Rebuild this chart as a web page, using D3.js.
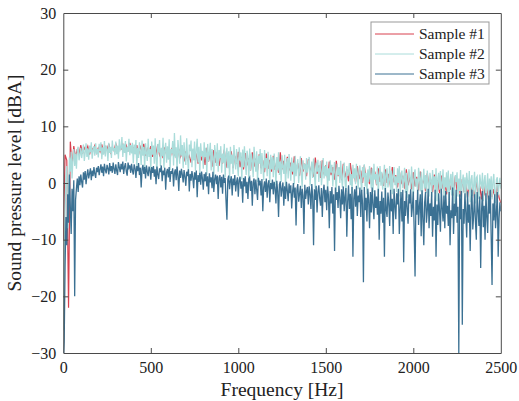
<!DOCTYPE html>
<html>
<head>
<meta charset="utf-8">
<script src="https://cdn.jsdelivr.net/npm/d3@7"></script>
<style>
  body { margin: 0; background: #fff; }
  svg { display: block; font-family: "Liberation Serif", "Times New Roman", serif; }
</style>
</head>
<body>
<div id="chart"></div>
<script>
// frequency grids (Hz): sample #1 read every 10 Hz, samples #2 and #3 every 5 Hz
var freqsCoarse = d3.range(0, 2501, 10);
var freqsFine = d3.range(0, 2501, 5);

var seriesNames = ["Sample #1", "Sample #2", "Sample #3"];
var seriesColors = ["#d8404f", "#aadcda", "#3b7193"];
var seriesWidths = [1.2, 1.3, 1.3];

// Sample #1 (dBA), 10 Hz steps
var sample1 = [
  -10, 5, 4, -22, 7.3, 3, 6.5, 4.5, 6, 5,
  6.7, 5.2, 6.2, 5.6, 6.5, 5, 6.3, 5.8, 6.6, 5.3,
  6.2, 5.5, 6.8, 5.2, 6.4, 5.9, 6.9, 5.4, 6.3, 5.7,
  7, 5.5, 6.4, 6, 6.8, 5.3, 6.6, 5.8, 7.1, 5.6,
  6.2, 5.4, 6.7, 5, 6.4, 5.6, 6.9, 4.8, 6.1, 5.5,
  6.5, 4.6, 5.9, 5.2, 6.8, 4.9, 5.7, 4.4, 6.3, 5,
  5.5, 4.2, 6.2, 4.8, 5.2, 4, 6, 4.6, 5.4, 3.8,
  5.6, 4.1, 4.8, 3.6, 5.8, 4.3, 5, 3.4, 5.3, 4,
  5.4, 3.2, 6.2, 3.8, 5.2, 2.9, 5.8, 3.6, 5.5, 3,
  5, 3.4, 5.9, 2.7, 5.2, 3.3, 5.6, 2.6, 4.8, 3.4,
  5.5, 2.8, 4.6, 2.4, 5.3, 3.1, 4.4, 2.2, 5.4, 2.9,
  4.3, 2.2, 5.1, 2.6, 4, 1.9, 5.2, 2.5, 4.1, 2,
  4.8, 2.3, 3.8, 1.8, 5.4, 2.4, 3.9, 1.6, 4.6, 2.2,
  3.6, 1.5, 4.7, 2.1, 3.5, 1.3, 4.4, 2, 3.4, 1.2,
  4.2, 1.8, 3.2, 1.1, 4.5, 1.6, 3.1, 0.9, 4, 1.5,
  3.1, 0.8, 3.8, 1.4, 2.8, 0.6, 3.9, 1.2, 2.7, 0.5,
  3.4, 1, 2.4, 0.3, 3.5, 0.9, 2.3, 0.1, 3, 0.7,
  2.2, 0, 3.1, 0.6, 1.3, -0.2, 2.7, 0.4, 2, -0.4,
  2.6, 0.2, 1.7, -0.5, 2.4, 0, 1.6, -0.7, 2.8, 0.1,
  1.4, -0.8, 2.2, -0.2, 1.3, -1, 2.4, -0.4, 1, -1.1,
  1.9, -0.6, 1.1, -1.3, 2, -0.5, 0.8, -1.5, 1.7, -0.8,
  0.6, -1.6, 1.5, -0.9, 0.5, -1.8, 1.3, -1, 0.3, -2,
  1, -1.2, 0, -2.2, 1.2, -1.4, -0.1, -2.4, 0.7, -1.6,
  -0.2, -2.5, 0.5, -1.8, -0.4, -2.7, 0.3, -2, -0.6, -2.9,
  0, -2.2, -0.8, -3, -0.2, -2.5, -1.1, -3.3, -0.4, -2.6,
  -3.5
];

// Sample #2, 5 Hz steps
var sample2 = [
  -26, -14, -5, 1, 3, -8, -2, 4.5, 2, 5.5, 0.8, 4.2, 6, 3, 5.2, 2.5, 5.8, 6.4, 4, 5,
  6.2, 4.4, 5.6, 6.8, 3.9, 5.3, 7, 4.6, 6.1, 4.1, 6.6, 5.4, 7.2, 4.3, 5.8, 6.5, 4.8, 7, 5.1, 6,
  4.5, 6.9, 5.6, 7.2, 4.2, 6.3, 5, 7.4, 4.7, 6.6, 5.9, 3.9, 7.1, 5.3, 6.4, 4.4, 7.5, 5.7, 6.2, 4.9,
  7.3, 5.1, 6.6, 4.3, 7.7, 5.8, 6.1, 8.1, 4.6, 6.9, 5.3, 7.4, 3.8, 6.4, 5.5, 7.8, 4.9, 6.7, 5.2, 7.1,
  3.5, 6.8, 5.1, 7.6, 2.9, 6.2, 4.4, 7.2, 5.6, 3.2, 7.5, 4.8, 6.4, 2.6, 7, 5.3, 3.9, 7.8, 4.6, 6,
  2.4, 7.3, 5, 6.6, 3.4, 7.9, 4.2, 2.1, 6.9, 5.4, 7.6, 3, 6.2, 4.7, 8, 2.7, 5.8, 7.1, 3.6, 6.5,
  4.1, 7.7, 2.3, 6, 5.2, 7.4, 3.1, 8.8, 4.5, 6.3, 2, 7.6, 5.5, 3.4, 8.4, 4.8, 6.7, 2.6, 7.2, 5,
  3.2, 7.9, 4.4, 1.9, 6.8, 5.6, 7.5, 2.8, 6.1, 4, 7.3, 2.2, 5.9, 7.8, 3.6, 6.4, 1.6, 7, 4.8, 5.7,
  2.5, 7.2, 4.6, 6.2, 1.4, 6.9, 3.8, 5.4, 7.1, 2.2, 6, 4.2, 1.2, 6.7, 5, 3, 7, 2, 5.8, 4.4,
  6.5, 1.8, 5.2, 3.6, 6.9, 1, 4.8, 6.2, 2.6, 5.6, 0.8, 6.4, 3.4, 5, 1.6, 6.7, 4.2, 2.4, 6, 3.2,
  1.2, 6.3, 4, 5.4, 0.6, 5.9, 2.8, 6.5, 3.6, 1.4, 5.7, 4.5, 0.4, 6.1, 2.2, 5.2, 3.8, 1, 6.4, 4.2,
  2, 5.6, 0.2, 4.8, 3.4, 6, 1.6, 5.3, 3, 0.5, 5.8, 2.6, 4.4, 1.2, 5.5, 3.6, 0, 5, 2.4, 4.6,
  1, 5.2, 3.2, -0.4, 4.6, 2.2, 5.4, 1.4, 3.8, 0.2, 4.9, 2.8, 1.6, 5, -0.6, 3.4, 4.4, 0.8, 5.1, 2.6,
  0.4, 4.5, 2, 3.6, -0.2, 4.8, 1.2, 3, 4.2, 0, 2.6, 4.7, 1.6, -0.8, 4, 2.4, 3.4, 0.6, 4.4, 1.8,
  3.2, 4.6, -0.5, 2.2, 3.8, 0.9, 4.3, 1.4, -1, 3.6, 2, 4.1, 0.2, 2.8, 3.9, -0.4, 1.6, 4.4, 0.8, 3,
  1.2, 3.8, -1.2, 2.6, 0.4, 4, 1.8, 3.2, -0.6, 2.2, 3.7, 0.6, -1.5, 3.4, 1.4, 2.8, 0, 3.9, 1, -0.8,
  2.4, 3.6, 0.2, -1.6, 3, 1.2, 2, 3.5, -0.4, 1.6, -1.8, 3.2, 0.8, 2.6, -0.2, 3.4, 1.4, -1.1, 2.2, 3.1,
  0.4, -1.4, 2.8, 1, 3.3, -0.6, 1.8, -2, 2.4, 0.2, 3, 1.2, -0.9, 2.6, -1.6, 3.4, 0.6, 1.6, -0.3, 2.9,
  -2.2, 1.4, 3, -0.5, 2, -1.2, 0.8, 3.2, -2.5, 1.6, 2.6, -0.8, 0.4, 3, -1.3, 2.2, -2, 1, 2.8, -0.4,
  1.2, -1.6, 2.6, 0, 3, -2.4, 1.4, 2.2, -0.9, 0.6, 2.7, -1.7, 1.8, -2.6, 0.2, 2.4, 1, -1.2, 2.9, 0.4,
  -2.8, 1.6, 2.4, -0.6, 0.8, -2.2, 2.7, 1.2, -1.5, 2, -3, 0.4, 2.5, -1, 1.4, -1.8, 2.2, 0.2, -2.4, 1.8,
  0.6, -2.5, 2.3, -0.4, 1.2, -1.9, 2.6, -3.2, 0.8, 1.8, -1.2, 2.1, -2, 0, 2.4, -2.7, 1, -0.8, 1.9, -1.6,
  2.2, -3, 0.4, 1.6, -2.2, 2, -1, -3.5, 1.4, 0.2, 1.9, -2.4, 0.8, -1.4, 2.3, -3.1, 0, 1.5, -1.8, 1,
  -2.6, 1.8, 0.2, -1.2, 2.1, -3.4, 0.6, 1.4, -2.3, -0.4, 2, -3.6, 0.9, 1.2, -1.6, -2.8, 1.5, 0, -1, 1.8,
  -3.2, 0.4, 1.4, -2.5, -0.6, 1.7, -3.8, 0.8, -1.4, 1.2, -2.9, 0.2, 1.6, -1.8, -3.5, 0.6, 1, -2.2, -0.4, 0.9,
  -1
];

// Sample #3, 5 Hz steps
var sample3 = [
  -32, -28, -15, -6, -11, -2, -7, 1.5, -4, -9, -1, -5, 0.5, -20, -3, -1, 0.8, -1.6, 1.2, -0.4,
  1.5, 0.2, -0.8, 1.9, 0.6, 2.1, -0.2, 1.4, 2.4, 0.8, 1.7, 2.6, 0.5, 2.2, 1.2, 2.8, 1.6, 0.9, 2.7, 1.9,
  3, 1.4, 2.4, 3.3, 1.8, 2.9, 1.2, 3.4, 2.3, 1.7, 3.2, 2.6, 1.5, 3.5, 2.1, 3, 1.8, 3.6, 2.5, 1.6,
  3.3, 2.2, 1.4, 3.7, 2.8, 1.9, 3.4, 2.4, 3.8, 1.6, 2.9, 3.5, 2, 1.3, 3.6, 2.7, 3.1, 1.8, 3.4, 2.2,
  1.5, 3.3, 2.6, 0.9, 3, 2.1, 3.5, 1.4, 2.7, -0.8, 2.4, 3.2, 1.6, 2.8, 0.8, 3.1, 2, 1.2, 2.9, 2.3,
  0.6, 2.8, 1.8, 3, 1.1, 2.4, -0.2, 2.9, 1.5, 0.7, 2.6, 1.9, 3.1, 0.3, 2.2, 1.4, 2.7, -1.2, 1.9, 2.5,
  1, 2.8, 0.2, 2.1, 1.6, 2.6, -0.6, 1.8, 2.4, 0.5, 2.9, 1.3, -1.4, 2.2, 0.9, 2.5, 1.5, 0.1, 2.3, 1.1,
  -0.5, 2, 1.2, 2.4, -1.5, 1.6, 0.4, 2.1, 1, -0.9, 1.9, 0.6, 2.2, -2.5, 1.4, 0.2, 1.8, -0.3, 2, 0.8,
  -1.2, 1.6, 0.3, 1.9, -0.6, 1.2, -2, 1.7, 0.1, 1, -0.9, 2, -1.6, 0.7, 1.5, -0.2, 1.3, -2.8, 0.9, 1.4,
  -0.8, 1.1, -1.9, 1.5, 0, 0.9, -3.2, -6.5, 0.6, 1.3, -1.1, 0.4, 1.2, -2.2, 0.8, -0.4, 1.4, -1.5, 0.2, 1,
  -2.4, 0.5, 1.1, -1, 0.3, -3.5, 0.9, -0.6, 1.2, -1.8, 0.2, -2.8, 0.7, 1, -1.4, 0.4, -4, 0.1, 0.8, -2,
  0.6, -1.2, -3, 0.9, -0.4, 0.4, -2.2, 0.7, -5, -0.8, 0.3, -1.6, 0.8, -2.6, -0.2, 0.5, -3.4, 0, -1.1, 0.6,
  -2, 0.2, -0.9, -3.6, 0.4, -1.5, -6, -0.3, 0.3, -2.4, -1, 0.1, -4, -0.6, -2.8, 0.2, -1.3, -3.2, -0.1, -1.8,
  -0.4, -4.5, -1.6, 0, -2.6, -0.8, -7.5, -1.2, -0.2, -3.3, -1.9, -0.5, -4.4, -1, -2.2, -9, -0.3, -2.8, -1.4, -0.7,
  -3.8, -0.6, -1.9, -4.6, -0.2, -2.4, -11, -1.1, -3, -0.5, -5.2, -1.6, -0.4, -2.7, -4, -0.9, -6, -1.5, -0.3, -3.4,
  -1.2, -4.8, -0.6, -2.2, -8, -1.4, -3.6, -0.7, -5.4, -2, -12, -0.8, -3, -1.6, -4.4, -0.5, -2.6, -6.2, -1.1, -3.8,
  -0.6, -5, -2.4, -0.9, -9.5, -3.2, -0.4, -4.6, -1.9, -6.4, -0.7, -13, -2.8, -1.1, -4.2, -0.5, -5.8, -2.2, -3.4, -0.8,
  -6, -1.2, -3.6, -17.5, -0.7, -4.8, -2.6, -6.8, -1, -3, -8, -1.6, -5.2, -0.8, -3.8, -6.4, -1.3, -4.4, -2.4, -5.6,
  -1, -10, -3.2, -5.4, -1.5, -7, -2.6, -13, -0.9, -4.6, -6, -1.7, -3.6, -7.6, -1.2, -5, -2.8, -9, -1, -4,
  -6.4, -1.8, -3.8, -1, -9, -4.6, -1.6, -6.8, -1.2, -14, -3.2, -5.8, -1.4, -4.4, -7.2, -2, -3.6, -1.1, -6, -4.2,
  -1.5, -8.4, -16.5, -3, -5.6, -1.2, -7.4, -4, -2, -9.4, -1.3, -6.2, -11, -3.4, -1.6, -7, -4.8, -1, -8, -3.6,
  -5.8, -1.6, -9.5, -4.2, -6.6, -1.2, -13, -3.8, -7.4, -1.8, -5, -8.6, -1, -4.4, -6.8, -2.2, -8, -1.4, -5.4, -4,
  -7.6, -1.6, -11, -4.8, -6.2, -0.8, -9, -3.6, -5.8, -1.2, -7, -4.2, -30, -2, -6.4, -1.4, -25, -4.6, -7.2, -1.8,
  -5.2, -9.6, -1.5, -7, -3.8, -12, -4.4, -1.2, -8.2, -5.6, -2, -6.8, -10, -1.6, -4.8, -7.6, -2.4, -15, -5, -1.4,
  -7.8, -4, -10, -1.8, -6, -8.8, -2.2, -5.4, -1.2, -9.4, -18, -3.6, -6.6, -2, -8, -5.2, -1.6, -13, -6.2, -3.4,
  -5
];

var series = [
  {values: sample1, freqs: freqsCoarse},
  {values: sample2, freqs: freqsFine},
  {values: sample3, freqs: freqsFine}
];

var xTicks = [0, 500, 1000, 1500, 2000, 2500];
var yTicks = [-30, -20, -10, 0, 10, 20, 30];

var width = 519, height = 401;
var margin = {left: 63.3, right: 18.2, top: 13, bottom: 48};

var svg = d3.select("#chart").append("svg")
    .attr("width", width)
    .attr("height", height);

var x = d3.scaleLinear().domain([0, 2500]).range([margin.left, width - margin.right]);
var y = d3.scaleLinear().domain([-30, 30]).range([height - margin.bottom, margin.top]);

svg.append("clipPath").attr("id", "plotclip")
  .append("rect")
    .attr("x", x(0)).attr("y", y(30))
    .attr("width", x(2500) - x(0)).attr("height", y(-30) - y(30));

var lineGroup = svg.append("g").attr("clip-path", "url(#plotclip)");
series.forEach(function(s, k) {
  var line = d3.line()
      .x(function(d, i) { return x(s.freqs[i]); })
      .y(function(d) { return y(d); });
  lineGroup.append("path")
      .datum(s.values)
      .attr("d", line)
      .attr("fill", "none")
      .attr("stroke", seriesColors[k])
      .attr("stroke-width", seriesWidths[k]);
});

// axes, ticks pointing inward, box all round
var axisColor = "#4a4a4a";
var tickLen = 5;
var fmt = d3.format("d");

var axBottom = svg.append("g")
    .attr("transform", "translate(0," + y(-30) + ")")
    .call(d3.axisBottom(x).tickValues(xTicks).tickFormat(fmt).tickSizeInner(-tickLen).tickSizeOuter(0).tickPadding(9));
var axTop = svg.append("g")
    .attr("transform", "translate(0," + y(30) + ")")
    .call(d3.axisTop(x).tickValues(xTicks).tickSizeInner(-tickLen).tickSizeOuter(0).tickFormat(""));
var axLeft = svg.append("g")
    .attr("transform", "translate(" + x(0) + ",0)")
    .call(d3.axisLeft(y).tickValues(yTicks).tickFormat(fmt).tickSizeInner(-tickLen).tickSizeOuter(0).tickPadding(7));
var axRight = svg.append("g")
    .attr("transform", "translate(" + x(2500) + ",0)")
    .call(d3.axisRight(y).tickValues(yTicks).tickSizeInner(-tickLen).tickSizeOuter(0).tickFormat(""));

[axBottom, axTop, axLeft, axRight].forEach(function(g) {
  g.select(".domain").attr("stroke", axisColor).attr("stroke-width", 1);
  g.selectAll(".tick line").attr("stroke", axisColor);
  g.selectAll(".tick text")
      .attr("fill", "#222")
      .style("font-family", "'Liberation Serif', serif")
      .style("font-size", "16px");
});
// drop ticks that sit on the box corners
axBottom.selectAll(".tick line").filter(function(d) { return d === 0 || d === 2500; }).remove();
axTop.selectAll(".tick line").filter(function(d) { return d === 0 || d === 2500; }).remove();
axLeft.selectAll(".tick line").filter(function(d) { return d === -30 || d === 30; }).remove();
axRight.selectAll(".tick line").filter(function(d) { return d === -30 || d === 30; }).remove();

// axis titles
svg.append("text")
    .attr("x", (x(0) + x(2500)) / 2)
    .attr("y", 396)
    .attr("text-anchor", "middle")
    .attr("fill", "#222")
    .style("font-size", "19.5px")
    .text("Frequency [Hz]");

svg.append("text")
    .attr("transform", "translate(21," + ((y(-30) + y(30)) / 2) + ") rotate(-90)")
    .attr("text-anchor", "middle")
    .attr("fill", "#222")
    .style("font-size", "19.5px")
    .text("Sound pressure level [dBA]");

// legend
var legend = svg.append("g").attr("transform", "translate(371,22)");
legend.append("rect")
    .attr("width", 118).attr("height", 62)
    .attr("fill", "#fff")
    .attr("stroke", "#999")
    .attr("stroke-width", 1);
seriesNames.forEach(function(name, k) {
  var cy = 12 + k * 20;
  legend.append("line")
      .attr("x1", 4).attr("x2", 43)
      .attr("y1", cy).attr("y2", cy)
      .attr("stroke", seriesColors[k])
      .attr("stroke-width", 1);
  legend.append("text")
      .attr("x", 48).attr("y", cy + 5)
      .attr("fill", "#222")
      .style("font-size", "15.5px")
      .text(name);
});
</script>
</body>
</html>
